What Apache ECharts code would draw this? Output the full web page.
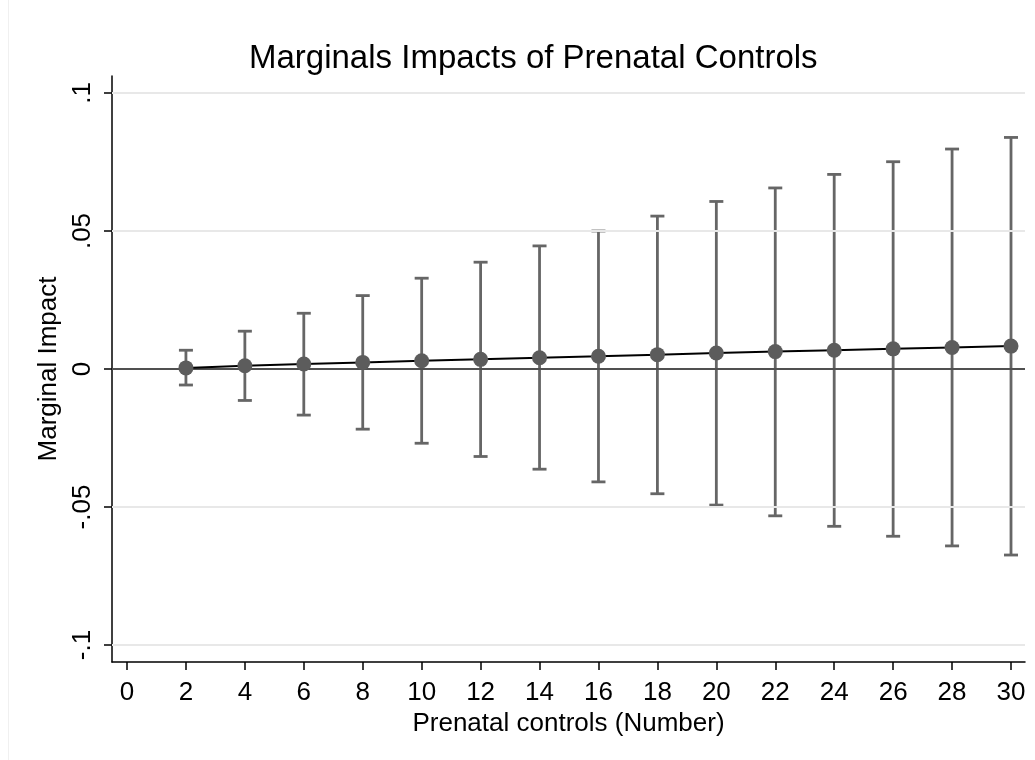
<!DOCTYPE html>
<html>
<head>
<meta charset="utf-8">
<script src="https://cdn.jsdelivr.net/npm/echarts@6/dist/echarts.min.js"></script>
<style>
  html, body { margin: 0; padding: 0; background: #fff; }
  #container { width: 1035px; height: 760px; }
</style>
</head>
<body>
<div id="container"></div>
<script>
var myChart = echarts.init(document.getElementById('container'));

// prenatal controls (x) and estimated marginal impacts with CI bounds
var controls = [2, 4, 6, 8, 10, 12, 14, 16, 18, 20, 22, 24, 26, 28, 30];
var impact = [0.0004, 0.0012, 0.0018, 0.0024, 0.0030, 0.0035, 0.0041, 0.0046, 0.0052, 0.0058, 0.0063, 0.0068, 0.0073, 0.0078, 0.0083];
var upper = [0.0068, 0.0137, 0.0202, 0.0266, 0.0329, 0.0387, 0.0446, 0.0500, 0.0554, 0.0607, 0.0656, 0.0705, 0.0751, 0.0797, 0.0839];
var lower = [-0.0058, -0.0114, -0.0167, -0.0218, -0.0269, -0.0317, -0.0363, -0.0409, -0.0452, -0.0493, -0.0532, -0.0570, -0.0606, -0.0641, -0.0674];

var xTicks = [0, 2, 4, 6, 8, 10, 12, 14, 16, 18, 20, 22, 24, 26, 28, 30];
var yTicks = [-0.1, -0.05, 0, 0.05, 0.1];
var gridLines = [-0.1, -0.05, 0.05, 0.1];

var font = '"Liberation Sans", Arial, sans-serif';

function yLabel(v) {
  if (v === 0) return '0';
  var s = String(v);
  return s.replace('0.', '.');
}

var pointData = controls.map(function(c, i) { return [c, impact[i]]; });
var barData = controls.map(function(c, i) { return [c, lower[i], upper[i]]; });

var option = {
  backgroundColor: '#ffffff',
  animation: false,
  title: {
    text: 'Marginals Impacts of Prenatal Controls',
    left: 244,
    top: 37,
    textStyle: {
      fontFamily: font,
      fontSize: 33,
      fontWeight: 'normal',
      color: '#000'
    }
  },
  graphic: [{
    type: 'line',
    shape: { x1: 8.5, y1: 0, x2: 8.5, y2: 760 },
    style: { stroke: '#f0f0f0', lineWidth: 1 }
  }],
  grid: {
    left: 112,
    right: 10,
    top: 76,
    bottom: 98,
    containLabel: false
  },
  xAxis: {
    type: 'value',
    min: -0.509,
    max: 30.475,
    name: 'Prenatal controls (Number)',
    nameLocation: 'middle',
    nameGap: 42,
    nameTextStyle: { fontFamily: font, fontSize: 26, color: '#000' },
    axisLine: { show: true, onZero: false, lineStyle: { color: '#000', width: 1.5 } },
    axisTick: { show: true, length: 8, customValues: xTicks, lineStyle: { color: '#000', width: 1.5 } },
    axisLabel: { customValues: xTicks, fontFamily: font, fontSize: 26, color: '#000', margin: 18 },
    splitLine: { show: false }
  },
  yAxis: {
    type: 'value',
    min: -0.10616,
    max: 0.10616,
    name: 'Marginal Impact',
    nameLocation: 'middle',
    nameGap: 42,
    nameRotate: 90,
    nameTextStyle: { fontFamily: font, fontSize: 26, color: '#000' },
    axisLine: { show: true, onZero: false, lineStyle: { color: '#000', width: 1.5 } },
    axisTick: { show: true, length: 8, customValues: yTicks, lineStyle: { color: '#000', width: 1.5 } },
    axisLabel: {
      customValues: yTicks,
      rotate: 90,
      fontFamily: font,
      fontSize: 26,
      color: '#000',
      margin: 16,
      formatter: yLabel
    },
    splitLine: { show: false }
  },
  series: [
    {
      type: 'line',
      data: [],
      silent: true,
      markLine: {
        symbol: 'none',
        silent: true,
        label: { show: false },
        lineStyle: { color: '#e8e8e8', width: 2, type: 'solid' },
        data: gridLines.map(function(v) { return { yAxis: v }; })
      }
    },
    {
      type: 'line',
      data: [],
      silent: true,
      z: 3,
      markLine: {
        symbol: 'none',
        silent: true,
        label: { show: false },
        lineStyle: { color: '#505050', width: 2, type: 'solid' },
        data: [{ yAxis: 0 }]
      }
    },
    {
      type: 'custom',
      z: 4,
      data: barData,
      renderItem: function(params, api) {
        var x = api.value(0);
        var lo = api.coord([x, api.value(1)]);
        var hi = api.coord([x, api.value(2)]);
        var cap = 7;
        var st = { stroke: '#666666', lineWidth: 2.8 };
        return {
          type: 'group',
          children: [
            { type: 'line', shape: { x1: lo[0], y1: lo[1], x2: hi[0], y2: hi[1] }, style: st },
            { type: 'line', shape: { x1: hi[0] - cap, y1: hi[1], x2: hi[0] + cap, y2: hi[1] }, style: st },
            { type: 'line', shape: { x1: lo[0] - cap, y1: lo[1], x2: lo[0] + cap, y2: lo[1] }, style: st }
          ]
        };
      }
    },
    {
      type: 'line',
      z: 5,
      data: pointData,
      symbol: 'circle',
      symbolSize: 15,
      showAllSymbol: true,
      lineStyle: { color: '#000', width: 2 },
      itemStyle: { color: '#5c5c5c', borderWidth: 0 }
    }
  ]
};

myChart.setOption(option);
</script>
</body>
</html>
